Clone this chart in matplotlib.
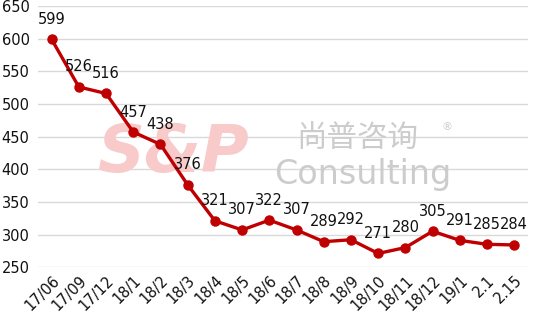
import matplotlib.pyplot as plt

labels = ["17/06", "17/09", "17/12", "18/1", "18/2", "18/3", "18/4", "18/5", "18/6", "18/7",
          "18/8", "18/9", "18/10", "18/11", "18/12", "19/1", "2.1", "2.15"]
values = [599, 526, 516, 457, 438, 376, 321, 307, 322, 307, 289, 292, 271, 280, 305, 291, 285, 284]

x = list(range(len(values)))

fig = plt.figure(figsize=(5.47, 3.25), dpi=100)
ax = fig.add_axes([0.0695, 0.178, 0.8955, 0.8035])

ax.plot(x, values, color="#C00000", lw=2.4, marker="o", ms=6.5, zorder=3)
for xi, v in zip(x, values):
    ax.annotate(str(v), (xi, v), xytext=(0, 9), textcoords="offset points",
                ha="center", va="bottom", fontsize=10.5, color="#111111", zorder=4)

ax.set_xlim(-0.5, len(values) - 0.5)
ax.set_ylim(250, 650)
ax.set_yticks(range(250, 651, 50))
ax.set_xticks(x)
ax.set_xticklabels(labels, rotation=45, ha="right", rotation_mode="anchor")
ax.tick_params(length=0, labelsize=10.5, colors="#111111")
ax.tick_params(axis="y", pad=6)
ax.tick_params(axis="x", pad=4)
ax.grid(axis="y", color="#d9d9d9", lw=1)
ax.set_axisbelow(True)
for s in ax.spines.values():
    s.set_visible(False)

# watermark, behind the line
tf = fig.transFigure
ax.text(0.178, 0.526, "S&P", transform=tf, fontsize=47, fontweight="heavy", style="italic",
        color="#f8caca", ha="left", va="center", zorder=1)
ax.text(0.542, 0.572, "尚普咨询", transform=tf, fontsize=22,
        family=["Noto Sans CJK SC", "DejaVu Sans"],
        color="#cccccc", ha="left", va="center", zorder=1)
ax.text(0.808, 0.61, "®", transform=tf, fontsize=8, color="#cccccc",
        ha="left", va="center", zorder=1)
ax.text(0.502, 0.462, "Consulting", transform=tf, fontsize=24, color="#cccccc",
        ha="left", va="center", zorder=1)

fig.savefig("out.png", dpi=100)
